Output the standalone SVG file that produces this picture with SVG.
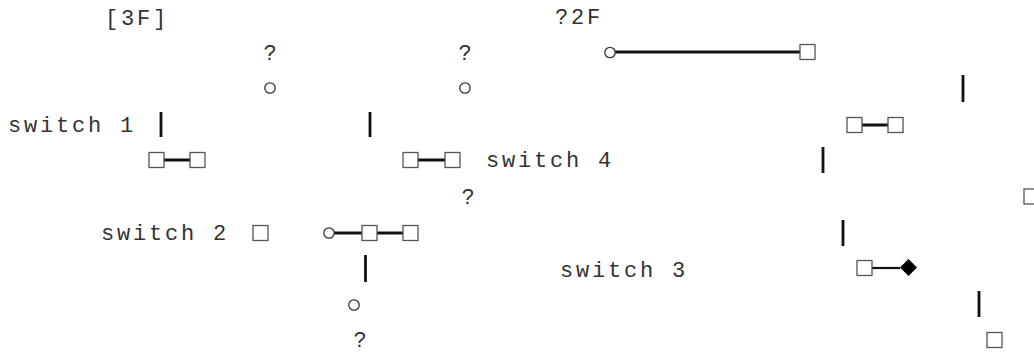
<svg xmlns="http://www.w3.org/2000/svg" width="1034" height="354" viewBox="0 0 1034 354">
<style>
.t{font-family:"Liberation Mono","DejaVu Sans Mono",monospace;font-size:22px;letter-spacing:2.8px;fill:#333}
.q{font-family:"Liberation Mono","DejaVu Sans Mono",monospace;font-size:22px;fill:#333;text-anchor:middle}
.sq{fill:#fff;stroke:#555;stroke-width:1.3}
.ci{fill:#fff;stroke:#333;stroke-width:1.3}
.ln{stroke:#111;stroke-width:3;fill:none}
.thin{stroke:#111;stroke-width:2.2;fill:none}
.bar{stroke:#111;stroke-width:2.8}
</style>
<rect width="1034" height="354" fill="#fff"/>
<g id="connectors">
  <line class="ln" x1="615" y1="52" x2="800" y2="52"/>
  <line class="ln" x1="862" y1="125" x2="888" y2="125"/>
  <line class="ln" x1="164" y1="160" x2="190" y2="160"/>
  <line class="ln" x1="418" y1="160" x2="445" y2="160"/>
  <line class="ln" x1="334" y1="233" x2="362" y2="233"/>
  <line class="ln" x1="377" y1="233" x2="403" y2="233"/>
  <line class="thin" x1="872" y1="268" x2="900" y2="268"/>
  <line class="bar" x1="963" y1="75" x2="963" y2="102"/>
  <line class="bar" x1="161" y1="112" x2="161" y2="137"/>
  <line class="bar" x1="370" y1="112" x2="370" y2="137"/>
  <line class="bar" x1="823" y1="147" x2="823" y2="173"/>
  <line class="bar" x1="843" y1="220" x2="843" y2="246"/>
  <line class="bar" x1="365.5" y1="255" x2="365.5" y2="282"/>
  <line class="bar" x1="979" y1="291" x2="979" y2="317"/>
</g>
<g id="label-3f"><text class="t" x="105" y="25">[3F]</text></g>
<g id="label-2f"><text class="t" x="555" y="24">?2F</text></g>
<g id="q1"><text class="q" x="270" y="60">?</text></g>
<g id="q2"><text class="q" x="465" y="60">?</text></g>
<g id="c1"><circle class="ci" cx="270" cy="88" r="5.2"/></g>
<g id="c2"><circle class="ci" cx="465" cy="88" r="5.2"/></g>
<g id="c-top"><circle class="ci" cx="610" cy="52.5" r="5.2"/></g>
<g id="sq-top"><rect class="sq" x="800" y="44.5" width="15" height="15"/></g>
<g id="switch1"><text class="t" x="8" y="132">switch 1</text></g>
<g id="sq-a1"><rect class="sq" x="847" y="117.5" width="15" height="15"/></g>
<g id="sq-a2"><rect class="sq" x="888" y="117.5" width="15" height="15"/></g>
<g id="sq-b1"><rect class="sq" x="149" y="152.5" width="15" height="15"/></g>
<g id="sq-b2"><rect class="sq" x="190" y="152.5" width="15" height="15"/></g>
<g id="sq-c1"><rect class="sq" x="403" y="152.5" width="15" height="15"/></g>
<g id="sq-c2"><rect class="sq" x="445" y="152.5" width="15" height="15"/></g>
<g id="switch4"><text class="t" x="486" y="167">switch 4</text></g>
<g id="q3"><text class="q" x="468" y="204">?</text></g>
<g id="sq-edge"><rect class="sq" x="1024" y="189" width="15" height="15"/></g>
<g id="switch2"><text class="t" x="101" y="240">switch 2</text></g>
<g id="sq-s2"><rect class="sq" x="253" y="225.5" width="15" height="15"/></g>
<g id="c3"><circle class="ci" cx="329" cy="233" r="5.2"/></g>
<g id="sq-d1"><rect class="sq" x="362" y="225.5" width="15" height="15"/></g>
<g id="sq-d2"><rect class="sq" x="403" y="225.5" width="15" height="15"/></g>
<g id="switch3"><text class="t" x="560" y="277">switch 3</text></g>
<g id="sq-e1"><rect class="sq" x="857" y="260.5" width="15" height="15"/></g>
<g id="diamond"><polygon points="908.5,259 917,267.5 908.5,276 900,267.5" fill="#000"/></g>
<g id="c4"><circle class="ci" cx="354" cy="305" r="5.2"/></g>
<g id="q4"><text class="q" x="360" y="347">?</text></g>
<g id="sq-f"><rect class="sq" x="987" y="332.5" width="15" height="15"/></g>
</svg>
